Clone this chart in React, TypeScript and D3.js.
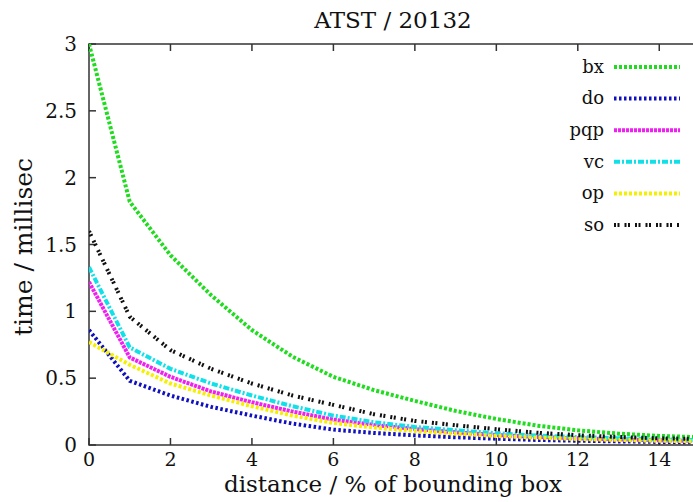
import React, { useEffect, useRef } from "react";
import * as d3 from "d3";

// distance (% of bounding box)
const distances = [0, 1, 2, 3, 4, 5, 6, 7, 8, 9, 10, 11, 12, 13, 14, 15];

// time in milliseconds per method
const bx = [3.0, 1.82, 1.42, 1.12, 0.86, 0.66, 0.51, 0.41, 0.33, 0.255, 0.195, 0.145, 0.11, 0.085, 0.068, 0.058];
const doVals = [0.86, 0.48, 0.37, 0.285, 0.22, 0.16, 0.115, 0.09, 0.072, 0.058, 0.047, 0.038, 0.032, 0.027, 0.023, 0.02];
const pqp = [1.22, 0.655, 0.51, 0.4, 0.32, 0.25, 0.19, 0.15, 0.12, 0.095, 0.075, 0.06, 0.05, 0.042, 0.035, 0.03];
const vc = [1.33, 0.73, 0.57, 0.46, 0.37, 0.29, 0.22, 0.17, 0.135, 0.11, 0.088, 0.07, 0.06, 0.05, 0.042, 0.036];
const op = [0.77, 0.6, 0.46, 0.37, 0.29, 0.22, 0.165, 0.13, 0.105, 0.085, 0.068, 0.055, 0.045, 0.038, 0.032, 0.027];
const so = [1.6, 0.96, 0.71, 0.57, 0.46, 0.37, 0.3, 0.23, 0.18, 0.148, 0.118, 0.092, 0.073, 0.06, 0.05, 0.045];

const seriesNames = ["bx", "do", "pqp", "vc", "op", "so"];
const seriesValues = [bx, doVals, pqp, vc, op, so];

const xTicks = [0, 2, 4, 6, 8, 10, 12, 14];
const yTicks = [0, 0.5, 1, 1.5, 2, 2.5, 3];

const styles: Record<string, { color: string; dash: string }> = {
  bx: { color: "#1fdc1f", dash: "3,2" },
  do: { color: "#1010c0", dash: "2.5,2.5" },
  pqp: { color: "#f020f0", dash: "3,1" },
  vc: { color: "#10e0e8", dash: "6,2,2,2" },
  op: { color: "#f4f000", dash: "3,2" },
  so: { color: "#111111", dash: "2,1.5,2,5" },
};

const W = 693;
const H = 502;
const margin = { left: 89, top: 44, right: -7, bottom: 57 };
const FONT = "'DejaVu Serif', 'Liberation Serif', serif";

const App: React.FC = () => {
  const svgRef = useRef<SVGSVGElement | null>(null);

  useEffect(() => {
    if (!svgRef.current) return;
    const svg = d3.select(svgRef.current);
    svg.selectAll("*").remove();

    const x = d3.scaleLinear().domain([0, 15]).range([margin.left, W - margin.right]);
    const y = d3.scaleLinear().domain([0, 3]).range([H - margin.bottom, margin.top]);

    svg.append("rect").attr("width", W).attr("height", H).attr("fill", "#fff");

    const frame = svg.append("g").attr("stroke", "#333").attr("stroke-width", 1.5).attr("fill", "none");
    frame
      .append("rect")
      .attr("x", x(0))
      .attr("y", y(3))
      .attr("width", x(15) - x(0))
      .attr("height", y(0) - y(3));

    // inward ticks on all four sides (gnuplot style)
    const tick = 7;
    xTicks.forEach((t) => {
      frame.append("line").attr("x1", x(t)).attr("x2", x(t)).attr("y1", y(0)).attr("y2", y(0) - tick);
      frame.append("line").attr("x1", x(t)).attr("x2", x(t)).attr("y1", y(3)).attr("y2", y(3) + tick);
    });
    yTicks.forEach((t) => {
      frame.append("line").attr("x1", x(0)).attr("x2", x(0) + tick).attr("y1", y(t)).attr("y2", y(t));
      frame.append("line").attr("x1", x(15)).attr("x2", x(15) - tick).attr("y1", y(t)).attr("y2", y(t));
    });

    svg
      .append("g")
      .selectAll("text")
      .data(xTicks)
      .enter()
      .append("text")
      .attr("x", (d) => x(d))
      .attr("y", y(0) + 21)
      .attr("text-anchor", "middle")
      .style("font-family", FONT)
      .style("font-size", "19px")
      .attr("fill", "#111")
      .text((d) => d);

    svg
      .append("g")
      .selectAll("text")
      .data(yTicks)
      .enter()
      .append("text")
      .attr("x", x(0) - 12)
      .attr("y", (d) => y(d))
      .attr("dy", "0.35em")
      .attr("text-anchor", "end")
      .style("font-family", FONT)
      .style("font-size", "20px")
      .attr("fill", "#111")
      .text((d) => d);

    svg
      .append("text")
      .attr("x", 393)
      .attr("y", 28)
      .attr("text-anchor", "middle")
      .style("font-family", FONT)
      .style("font-size", "23px")
      .attr("fill", "#111")
      .text("ATST / 20132");

    svg
      .append("text")
      .attr("x", 393)
      .attr("y", 492)
      .attr("text-anchor", "middle")
      .style("font-family", FONT)
      .style("font-size", "23px")
      .attr("fill", "#111")
      .text("distance / % of bounding box");

    svg
      .append("text")
      .attr("transform", `translate(32,247) rotate(-90)`)
      .attr("text-anchor", "middle")
      .style("font-family", FONT)
      .style("font-size", "25px")
      .attr("fill", "#111")
      .text("time / millisec");

    const line = d3
      .line<number>()
      .x((_, i) => x(distances[i]))
      .y((d) => y(d));

    svg
      .append("defs")
      .append("clipPath")
      .attr("id", "plot-clip")
      .append("rect")
      .attr("x", x(0))
      .attr("y", y(3) - 3)
      .attr("width", x(15) - x(0))
      .attr("height", y(0) - y(3) + 3);

    const lines = svg.append("g").attr("clip-path", "url(#plot-clip)");
    seriesNames.forEach((name, i) => {
      lines
        .append("path")
        .datum(seriesValues[i])
        .attr("d", line)
        .attr("fill", "none")
        .attr("stroke", styles[name].color)
        .attr("stroke-width", 4)
        .attr("stroke-dasharray", styles[name].dash);
    });

    // legend
    const legend = svg.append("g");
    seriesNames.forEach((name, i) => {
      const ly = 67 + i * 31.6;
      legend
        .append("text")
        .attr("x", 604)
        .attr("y", ly)
        .attr("dy", "0.32em")
        .attr("text-anchor", "end")
        .style("font-family", FONT)
        .style("font-size", "18px")
        .attr("fill", "#111")
        .text(name);
      legend
        .append("line")
        .attr("x1", 614)
        .attr("x2", 680)
        .attr("y1", ly)
        .attr("y2", ly)
        .attr("stroke", styles[name].color)
        .attr("stroke-width", 4)
        .attr("stroke-dasharray", styles[name].dash);
    });
  }, []);

  return (
    <div style={{ position: "absolute", left: 0, top: 0 }}>
      <svg ref={svgRef} width={W} height={H} style={{ display: "block" }}></svg>
    </div>
  );
};

export default App;
